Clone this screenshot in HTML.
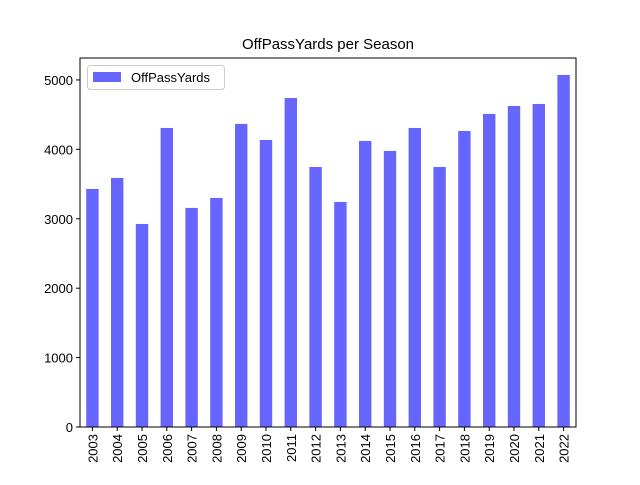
<!DOCTYPE html>
<html><head><meta charset="utf-8"><style>
body{margin:0;background:#fff}
text{font-family:"Liberation Sans","DejaVu Sans",sans-serif;fill:#000}
</style></head><body>
<svg id="chart" width="640" height="480" xmlns="http://www.w3.org/2000/svg">
<rect width="640" height="480" fill="#fff"/>
<text x="328" y="49" font-size="15" text-anchor="middle">OffPassYards per Season</text>
<g id="bars"></g>
<g id="yticks"></g>
<g id="xticks"></g>
<rect x="80" y="58" width="496" height="369" fill="none" stroke="#000" stroke-width="1"/>
<text x="328" y="492" font-size="13" text-anchor="middle">Season</text>
<g>
<rect x="87.5" y="65.5" width="137" height="24" rx="3" fill="#fff" fill-opacity="0.8" stroke="#ccc"/>
<rect x="93" y="72" width="28" height="10" fill="#6666ff"/>
<text x="131" y="82" font-size="13">OffPassYards</text>
</g>
</svg>
<script>
const categories=["2003","2004","2005","2006","2007","2008","2009","2010","2011","2012","2013","2014","2015","2016","2017","2018","2019","2020","2021","2022"];
const values=[3429,3588,2925,4308,3156,3300,4366,4135,4740,3746,3242,4121,3977,4308,3746,4265,4510,4625,4654,5072];
const yTicks=[0,1000,2000,3000,4000,5000];
const NS="http://www.w3.org/2000/svg";
const L=80,R=576,T=58,B=427,yMax=5316;
const y=v=>B-v/yMax*(B-T);
const step=(R-L)/categories.length;
const x=i=>L+step*(i+0.5);
const bars=document.getElementById('bars'),yt=document.getElementById('yticks'),xt=document.getElementById('xticks');
function mk(t,a){const e=document.createElementNS(NS,t);for(const k in a)e.setAttribute(k,a[k]);return e;}
values.forEach((v,i)=>{
 const r=mk('rect',{x:x(i)-step/4,y:y(v),width:step/2,height:B-y(v),fill:'#6666ff'});
 
 
 bars.appendChild(r);
 const tk=mk('line',{x1:x(i),x2:x(i),y1:B,y2:B+4,stroke:'#000'});
 
 
 xt.appendChild(tk);
 const tx=mk('text',{x:0,y:0,'font-size':13,'text-anchor':'end',transform:`translate(${x(i)+5},${B+7}) rotate(-90)`});
 tx.textContent=categories[i];
 
 
 xt.appendChild(tx);
});
yTicks.forEach(v=>{
 const tk=mk('line',{x1:L-4,x2:L,y1:y(v),y2:y(v),stroke:'#000'});
 
 
 yt.appendChild(tk);
 const tx=mk('text',{x:L-7,y:y(v)+5,'font-size':13,'text-anchor':'end'});
 tx.textContent=v;
 
 
 yt.appendChild(tx);
});
</script>
</body></html>
